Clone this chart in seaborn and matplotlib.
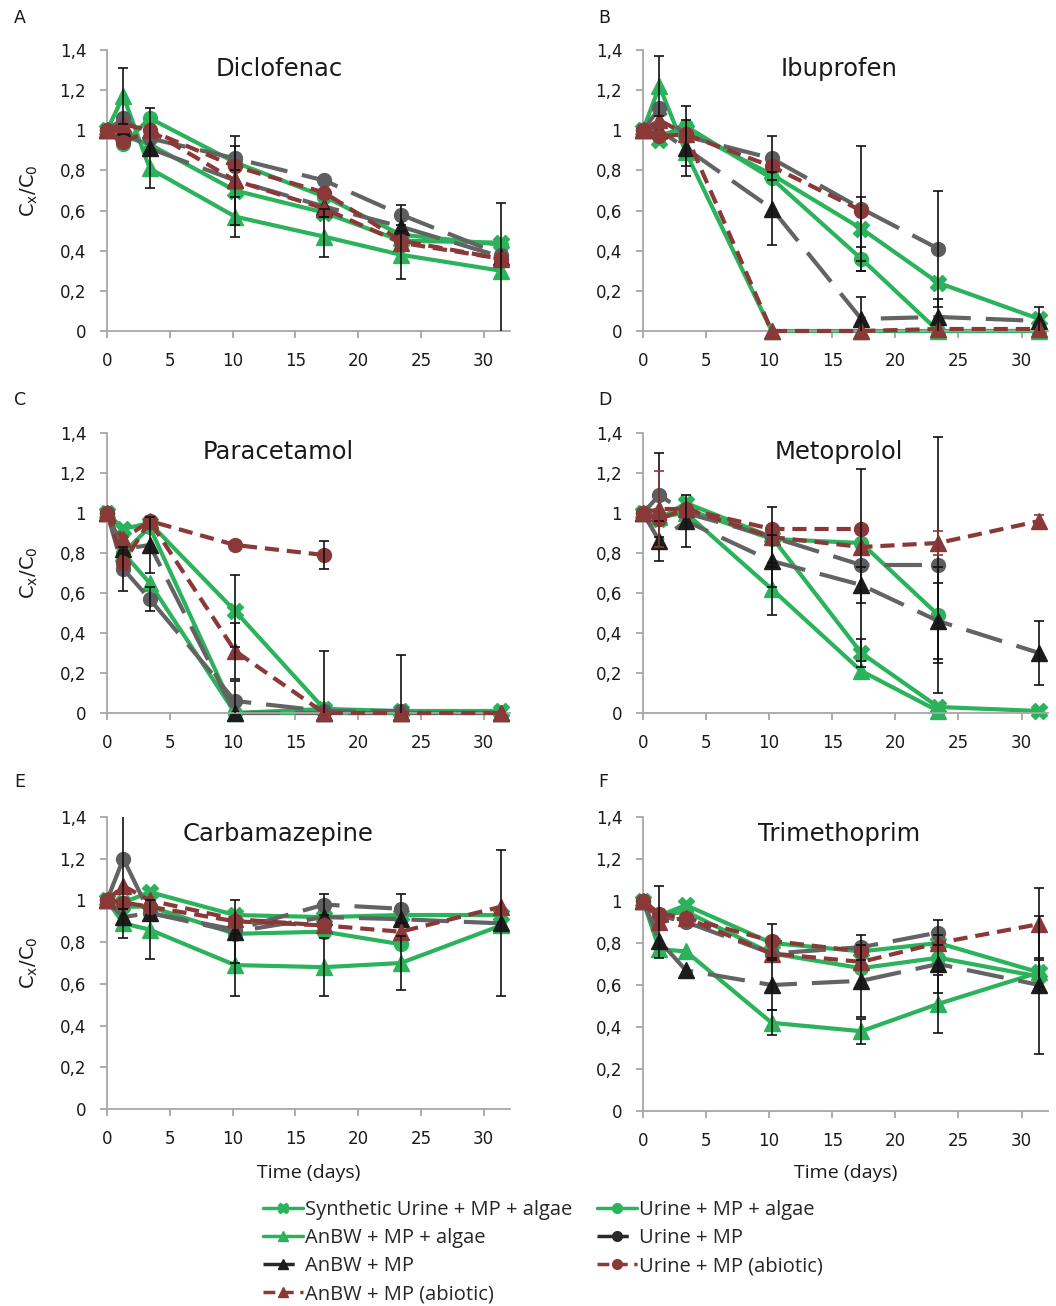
import numpy as np
import pandas as pd
import matplotlib
matplotlib.use("Agg")
import matplotlib.pyplot as plt
import matplotlib.transforms as mtransforms
from matplotlib.lines import Line2D
import seaborn as sns

nan = np.nan

# ---------------- data ----------------
TIME = [0, 1.3, 3.4, 10.2, 17.3, 23.4, 31.4]
SERIES = ["Synthetic Urine + MP + algae", "Urine + MP + algae", "AnBW + MP + algae",
          "Urine + MP", "AnBW + MP", "Urine + MP (abiotic)", "AnBW + MP (abiotic)"]
KEYS = ["SU", "UA", "AA", "U", "A", "UB", "AB"]
LETTERS = ["A", "B", "C", "D", "E", "F"]
COMPOUNDS = ["Diclofenac", "Ibuprofen", "Paracetamol", "Metoprolol", "Carbamazepine", "Trimethoprim"]
YTICKS = [0, 0.2, 0.4, 0.6, 0.8, 1.0, 1.2, 1.4]
YTICKLABELS = ["0", "0,2", "0,4", "0,6", "0,8", "1", "1,2", "1,4"]
XTICKS = [0, 5, 10, 15, 20, 25, 30]

DICLOFENAC = {
    "SU": [1.0, 0.97, 0.93, 0.70, 0.59, 0.45, 0.44],
    "UA": [1.0, 0.93, 1.06, 0.84, 0.67, 0.48, 0.43],
    "AA": [1.0, 1.17, 0.81, 0.57, 0.47, 0.38, 0.30],
    "U":  [1.0, 1.06, 0.96, 0.86, 0.75, 0.58, 0.38],
    "A":  [1.0, 1.00, 0.91, 0.75, 0.62, 0.52, 0.37],
    "UB": [1.0, 0.94, 1.00, 0.82, 0.69, 0.45, 0.36],
    "AB": [1.0, 1.03, 1.00, 0.75, 0.61, 0.44, 0.36],
}
IBUPROFEN = {
    "SU": [1.0, 0.95, 1.00, 0.78, 0.51, 0.24, 0.06],
    "UA": [1.0, 0.97, 1.02, 0.76, 0.36, 0.00, 0.00],
    "AA": [1.0, 1.22, 0.89, 0.00, 0.00, 0.00, 0.00],
    "U":  [1.0, 1.11, 0.97, 0.86, 0.61, 0.41, nan],
    "A":  [1.0, 1.00, 0.91, 0.61, 0.06, 0.07, 0.05],
    "UB": [1.0, 0.97, 0.98, 0.82, 0.60, nan, nan],
    "AB": [1.0, 1.05, 0.98, 0.00, 0.00, 0.01, 0.01],
}
PARACETAMOL = {
    "SU": [1.0, 0.92, 0.95, 0.51, 0.02, 0.01, 0.01],
    "UA": [1.0, 0.80, 0.93, 0.00, 0.02, 0.00, nan],
    "AA": [1.0, 0.80, 0.65, 0.00, 0.00, 0.00, 0.00],
    "U":  [1.0, 0.72, 0.57, 0.06, 0.01, 0.01, nan],
    "A":  [1.0, 0.82, 0.84, 0.00, 0.00, 0.00, 0.00],
    "UB": [1.0, 0.75, 0.96, 0.84, 0.79, nan, nan],
    "AB": [1.0, 0.87, 0.96, 0.31, 0.00, 0.00, 0.00],
}
METOPROLOL = {
    "SU": [1.0, 0.97, 1.05, 0.88, 0.30, 0.03, 0.01],
    "UA": [1.0, 0.97, 1.02, 0.87, 0.85, 0.49, nan],
    "AA": [1.0, 0.98, 1.00, 0.62, 0.21, 0.01, nan],
    "U":  [1.0, 1.09, 1.00, 0.88, 0.74, 0.74, nan],
    "A":  [1.0, 0.86, 0.96, 0.76, 0.64, 0.46, 0.30],
    "UB": [1.0, 0.97, 1.02, 0.92, 0.92, nan, nan],
    "AB": [1.0, 1.02, 1.02, 0.88, 0.83, 0.85, 0.96],
}
CARBAMAZEPINE = {
    "SU": [1.0, 0.99, 1.04, 0.93, 0.92, 0.93, 0.93],
    "UA": [1.0, 0.97, 0.97, 0.84, 0.85, 0.79, nan],
    "AA": [1.0, 0.89, 0.86, 0.69, 0.68, 0.70, 0.88],
    "U":  [1.0, 1.20, 0.94, 0.86, 0.98, 0.96, nan],
    "A":  [1.0, 0.92, 0.94, 0.85, 0.92, 0.91, 0.89],
    "UB": [1.0, 0.99, 0.97, 0.90, 0.88, nan, nan],
    "AB": [1.0, 1.07, 1.00, 0.91, 0.88, 0.85, 0.97],
}
TRIMETHOPRIM = {
    "SU": [1.0, 0.93, 0.98, 0.80, 0.76, 0.80, 0.66],
    "UA": [1.0, 0.93, 0.95, 0.75, 0.68, 0.73, 0.64],
    "AA": [1.0, 0.77, 0.76, 0.42, 0.38, 0.51, 0.66],
    "U":  [1.0, 0.93, 0.90, 0.75, 0.78, 0.85, nan],
    "A":  [1.0, 0.81, 0.67, 0.60, 0.62, 0.70, 0.60],
    "UB": [1.0, 0.94, 0.92, 0.81, 0.76, nan, nan],
    "AB": [1.0, 0.90, 0.92, 0.75, 0.71, 0.80, 0.89],
}

# error bars (standard deviation), nan = not shown
DICLOFENAC_ERR = {
    "AA": [nan, 0.14, nan, 0.10, 0.10, 0.12, 0.34],
    "A":  [nan, nan, 0.20, 0.22, nan, nan, nan],
    "U":  [nan, nan, nan, 0.06, nan, 0.05, nan],
    "SU": [nan, nan, nan, nan, 0.02, nan, nan],
}
IBUPROFEN_ERR = {
    "AA": [nan, 0.15, nan, nan, nan, nan, nan],
    "A":  [nan, nan, 0.14, 0.18, 0.11, 0.09, 0.07],
    "U":  [nan, nan, 0.15, 0.11, 0.31, 0.29, nan],
    "SU": [nan, nan, nan, nan, 0.16, nan, nan],
    "UA": [nan, nan, nan, nan, 0.06, nan, nan],
}
PARACETAMOL_ERR = {
    "U":  [nan, 0.11, 0.06, 0.10, nan, nan, nan],
    "A":  [nan, nan, 0.14, nan, 0.31, 0.29, nan],
    "SU": [nan, nan, nan, 0.18, nan, nan, nan],
    "AB": [nan, nan, nan, 0.14, nan, nan, nan],
    "UB": [nan, nan, nan, nan, 0.07, nan, nan],
}
METOPROLOL_ERR = {
    "U":  [nan, 0.21, nan, 0.15, 0.48, 0.64, nan],
    "A":  [nan, 0.10, 0.13, 0.13, 0.09, 0.19, 0.16],
    "AA": [nan, nan, nan, 0.13, nan, nan, nan],
    "SU": [nan, nan, nan, nan, 0.07, nan, nan],
    "UA": [nan, nan, nan, nan, nan, 0.24, nan],
    "AB": [nan, 0.19, nan, nan, nan, 0.06, 0.03],
}
CARBAMAZEPINE_ERR = {
    "U":  [nan, 0.24, nan, nan, 0.05, 0.07, nan],
    "AA": [nan, 0.07, 0.14, 0.15, 0.14, 0.13, nan],
    "A":  [nan, nan, nan, 0.15, nan, nan, 0.35],
}
TRIMETHOPRIM_ERR = {
    "AB": [nan, 0.17, nan, nan, nan, nan, 0.17],
    "A":  [nan, nan, nan, 0.12, 0.17, 0.14, 0.33],
    "AA": [nan, nan, nan, 0.06, 0.06, 0.14, nan],
    "UB": [nan, nan, nan, 0.08, nan, nan, nan],
    "U":  [nan, nan, nan, nan, 0.06, 0.06, nan],
    "SU": [nan, nan, nan, nan, nan, nan, 0.07],
}

PANEL_DATA = [DICLOFENAC, IBUPROFEN, PARACETAMOL, METOPROLOL, CARBAMAZEPINE, TRIMETHOPRIM]
PANEL_ERR = [DICLOFENAC_ERR, IBUPROFEN_ERR, PARACETAMOL_ERR, METOPROLOL_ERR,
             CARBAMAZEPINE_ERR, TRIMETHOPRIM_ERR]

# ---------------- styles ----------------
GREEN = "#2bb35b"
GRAY = "#636363"
BLACK = "#1c1c1c"
RED = "#8b3838"
LONG = (0, (9, 3.6))
SHORT = (0, (3.4, 1.9))
STYLE = {
    "SU": dict(color=GREEN, linestyle="-", marker="X", mfc=GREEN, mec=GREEN, ms=11),
    "UA": dict(color=GREEN, linestyle="-", marker="o", mfc=GREEN, mec=GREEN, ms=10),
    "AA": dict(color=GREEN, linestyle="-", marker="^", mfc=GREEN, mec=GREEN, ms=11),
    "U":  dict(color=GRAY, linestyle=LONG, marker="o", mfc="#5e5e60", mec="#5e5e60", ms=10),
    "A":  dict(color=GRAY, linestyle=LONG, marker="^", mfc=BLACK, mec=BLACK, ms=11),
    "UB": dict(color=RED, linestyle=SHORT, marker="o", mfc=RED, mec=RED, ms=10),
    "AB": dict(color=RED, linestyle=SHORT, marker="^", mfc=RED, mec=RED, ms=11),
}

# ---------------- figure ----------------
sns.set_theme(style="white")
plt.rcParams["font.family"] = ["DejaVu Sans"]
plt.rcParams["mathtext.fontset"] = "dejavusans"

W, H = 1056, 1306
fig = plt.figure(figsize=(W / 100, H / 100), dpi=100)
fig.patch.set_facecolor("white")

BOXES = [(107, 510, 50, 331), (643, 1048, 50, 331),
         (107, 510, 433, 713), (643, 1048, 433, 713),
         (107, 510, 817, 1109), (643, 1048, 817, 1111)]
TITLE_X = [0.427, 0.484, 0.424, 0.484, 0.424, 0.484]
TITLE_Y = [1.305, 1.305, 1.305, 1.305, 1.318, 1.318]
LETTER_POS = [(14, 18), (598, 18), (14, 400), (598, 400), (14, 782), (598, 782)]

for i, (l, r, t, b) in enumerate(BOXES):
    ax = fig.add_axes([l / W, 1 - b / H, (r - l) / W, (b - t) / H])
    ax.set_facecolor("white")
    data = PANEL_DATA[i]
    errs = PANEL_ERR[i]
    for z, key in enumerate(KEYS):
        st = STYLE[key]
        df = pd.DataFrame({"t": TIME, "v": data[key]}).dropna()
        sns.lineplot(data=df, x="t", y="v", ax=ax, errorbar=None, sort=False,
                     legend=False, color=st["color"], linestyle=st["linestyle"],
                     linewidth=3, marker=st["marker"], markersize=st["ms"],
                     markerfacecolor=st["mfc"], markeredgecolor=st["mec"],
                     markeredgewidth=1, clip_on=False, zorder=2 + z * 0.1)
    for key, e in errs.items():
        v = np.array(data[key], dtype=float)
        e = np.array(e, dtype=float)
        m = ~np.isnan(e) & ~np.isnan(v)
        ecol = RED if (i == 3 and key == "AB") else "#111111"
        ax.errorbar(np.array(TIME)[m], v[m], yerr=e[m], fmt="none", ecolor=ecol,
                    elinewidth=1.2, capsize=3.5, capthick=1.2, zorder=5)

    ax.set_xlim(0, 32.1)
    ax.set_ylim(0, 1.4)
    ax.set_xticks(XTICKS)
    ax.set_xticklabels([str(x) for x in XTICKS])
    ax.set_yticks(YTICKS)
    ax.set_yticklabels(YTICKLABELS)
    for s in ["top", "right"]:
        ax.spines[s].set_visible(False)
    for s in ["left", "bottom"]:
        ax.spines[s].set_color("#a6a6a6")
        ax.spines[s].set_linewidth(1.3)
    ax.tick_params(axis="both", direction="out", length=5, width=1.3, color="#a6a6a6",
                   labelsize=12, labelcolor="#1a1a1a", pad=10,
                   left=True, bottom=True)
    ax.grid(False)

    trans = mtransforms.blended_transform_factory(ax.transAxes, ax.transData)
    ax.text(TITLE_X[i], TITLE_Y[i], COMPOUNDS[i], transform=trans, ha="center",
            va="center", fontsize=17.5, color="#1a1a1a")

    if i % 2 == 0:
        ax.set_ylabel(r"C$_\mathrm{x}$/C$_0$", fontsize=14, color="#1a1a1a")
        ax.yaxis.set_label_coords(-(107 - 40) / (r - l), 0.5)
    else:
        ax.set_ylabel("")
    if i >= 4:
        ax.set_xlabel("Time (days)", fontsize=14, family=["Open Sans", "DejaVu Sans"],
                      color="#1a1a1a")
        ax.xaxis.set_label_coords(0.5, -(1164 - b) / (b - t))
    else:
        ax.set_xlabel("")

    lx, ly = LETTER_POS[i]
    fig.text(lx / W, 1 - ly / H, LETTERS[i], ha="left", va="center", fontsize=12.5,
             color="#1a1a1a")

# ---------------- legend ----------------
def handle(key):
    st = STYLE[key]
    dark = key in ("U", "A")
    return Line2D([], [], color="#2a2a2a" if dark else st["color"],
                  linestyle=st["linestyle"], linewidth=2.5, marker=st["marker"],
                  markersize=st["ms"] * 0.7,
                  markerfacecolor="#2a2a2a" if key == "U" else st["mfc"],
                  markeredgecolor="#2a2a2a" if key == "U" else st["mec"])

order = ["SU", "AA", "A", "AB", "UA", "U", "UB"]
handles = [handle(k) for k in order]
labels = [SERIES[KEYS.index(k)] for k in order]
fig.legend(handles, labels, loc="upper left", bbox_to_anchor=(253 / W, 1 - 1190 / H),
           ncol=2, frameon=False, borderpad=0, handlelength=2.0, handletextpad=0.1,
           columnspacing=1.2, labelspacing=0.40,
           prop={"family": ["Open Sans", "DejaVu Sans"], "size": 14.5})

fig.savefig("out.png", dpi=100, facecolor="white")
